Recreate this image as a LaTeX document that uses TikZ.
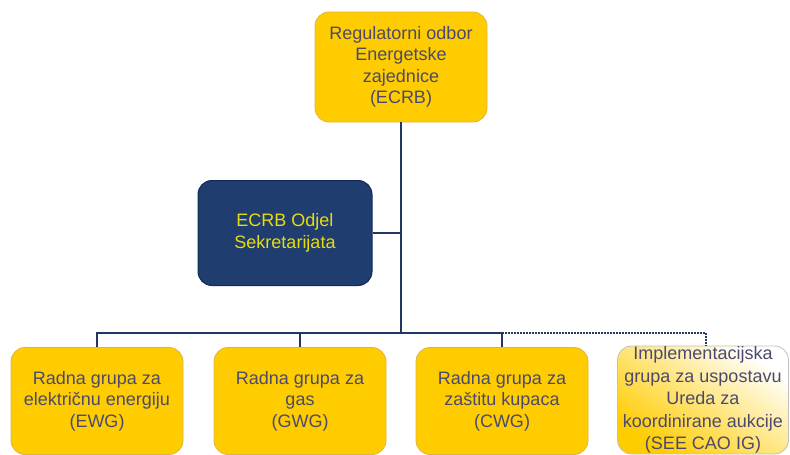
\documentclass[tikz,border=0pt]{standalone}
\usepackage{fontspec}
\setmainfont{Liberation Sans}
\begin{document}
\begin{tikzpicture}[x=1pt,y=-1pt,
  txt/.style={text=textcol,font=\fontsize{18}{21.5}\selectfont,align=center},
  ybox/.style={txt,draw=yedge,line width=0.8pt,fill=yfill,rounded corners=14pt,minimum width=172pt,inner sep=0pt},
  dbox/.style={draw=dedge,line width=1pt,fill=dfill,rounded corners=14pt,minimum width=174pt,minimum height=105pt,text=dtext,font=\fontsize{18}{21.5}\selectfont,align=center},
  link/.style={draw=linecol,line width=2pt},
  dotlink/.style={draw=linecol,line width=2pt,dash pattern=on 1.5pt off 1.5pt}]
\definecolor{yfill}{HTML}{FFCC00}
\definecolor{yedge}{HTML}{E0B43C}
\definecolor{textcol}{HTML}{4B4A6E}
\definecolor{dfill}{HTML}{1F3D6E}
\definecolor{dedge}{HTML}{0F2A55}
\definecolor{dtext}{HTML}{E8DC10}
\definecolor{linecol}{HTML}{1F3864}
\useasboundingbox (0,0) rectangle (790,455);
\node[ybox,minimum height=110pt] (top) at (401,67) {Regulatorni odbor\\Energetske\\zajednice\\(ECRB)};
\node[dbox] (sec) at (285,233) {ECRB Odjel\\Sekretarijata};
\node[ybox,minimum height=107pt] (ewg) at (97,401) {Radna grupa za\\električnu energiju\\(EWG)};
\node[ybox,minimum height=107pt] (gwg) at (300,401) {Radna grupa za\\gas\\(GWG)};
\node[ybox,minimum height=107pt] (cwg) at (502,401) {Radna grupa za\\zaštitu kupaca\\(CWG)};
\node[txt,font=\fontsize{18}{22.5}\selectfont,draw=gray!50,line width=0.8pt,rounded corners=14pt,minimum width=171pt,minimum height=108pt,inner sep=0pt,
  shading=axis,top color=white,bottom color=yfill,shading angle=-35] (cao) at (703,400) {Implementacijska\\grupa za uspostavu\\Ureda za\\koordinirane aukcije\\(SEE CAO IG)};
\coordinate (bus) at (401,333);
\coordinate (busl) at (97,333);
\coordinate (busr) at (502,333);
\coordinate (busd) at (706,333);
\draw[link] (top.south) -- (bus);
\draw[link] (sec.east) -- (sec.east -| bus);
\draw[link] (ewg.north) -- (busl) -- (busr) -- (cwg.north);
\draw[link] (gwg.north) -- (gwg.north |- busl);
\draw[dotlink] (busr) -- (busd) -- (busd |- cao.north);
\end{tikzpicture}
\end{document}
